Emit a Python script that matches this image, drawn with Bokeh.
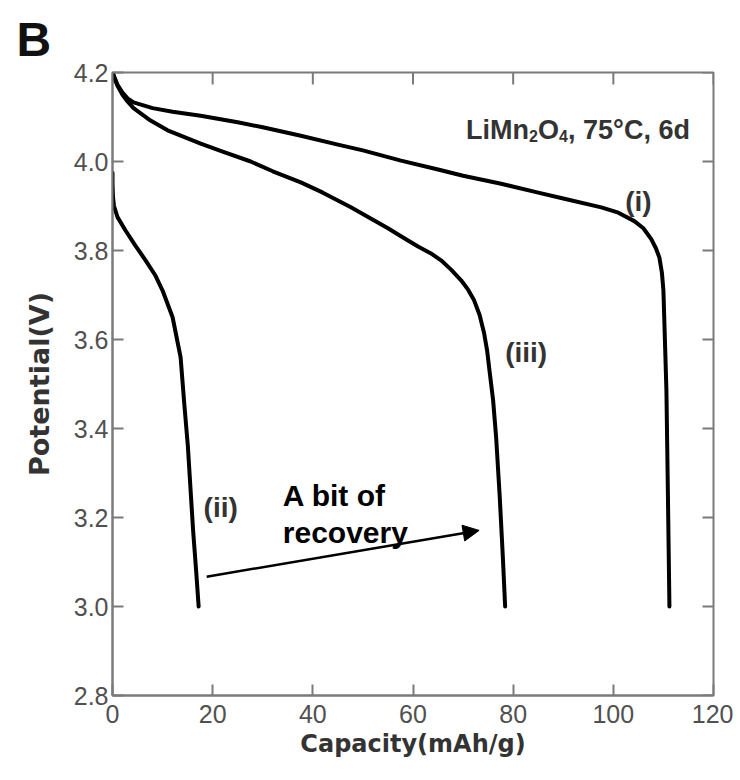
import math
from bokeh.plotting import figure
from bokeh.models import Range1d, Label, Arrow, NormalHead, FixedTicker, PrintfTickFormatter
from bokeh.embed import file_html
from bokeh.resources import INLINE

# Curve (i)
cap_i = [0, 1, 2, 3, 4.2, 8, 12, 17.6, 25, 30, 37.6, 45, 50, 57.6, 65, 70, 77.6, 85, 90, 97.6,
         101, 104.2, 106, 107.6, 108.5, 109.2, 109.7, 110, 110.3, 110.6, 110.9, 111.2]
pot_i = [4.2, 4.172, 4.155, 4.142, 4.133, 4.12, 4.112, 4.103, 4.088, 4.077, 4.058, 4.038, 4.025, 4.002,
         3.982, 3.968, 3.95, 3.93, 3.917, 3.897, 3.885, 3.866, 3.85, 3.825, 3.805, 3.784, 3.75, 3.71,
         3.598, 3.485, 3.25, 3.0]
# Curve (ii)
cap_ii = [0, 0, 0.1, 0.3, 1, 2.6, 4.5, 6.6, 8.5, 10, 12, 13.6, 14.3, 15.05, 15.6, 16.1, 16.7, 17.2]
pot_ii = [3.975, 3.95, 3.92, 3.9, 3.875, 3.845, 3.812, 3.778, 3.745, 3.71, 3.65, 3.56, 3.46, 3.36,
          3.26, 3.17, 3.08, 3.0]
# Curve (iii)
cap_iii = [0, 1, 2, 3, 4.2, 7.6, 11, 17.6, 22, 27.6, 32, 37.6, 42, 47.6, 52, 55, 57.6, 61, 63.5, 65.6,
           67.6, 69.6, 71, 72.2, 73.3, 74.2, 74.8, 75.2, 75.6, 76, 76.6, 77.3, 77.9, 78.4]
pot_iii = [4.2, 4.17, 4.15, 4.135, 4.12, 4.092, 4.07, 4.04, 4.022, 4.0, 3.978, 3.953, 3.93, 3.897,
           3.869, 3.85, 3.832, 3.809, 3.794, 3.778, 3.757, 3.733, 3.712, 3.688, 3.655, 3.614, 3.575,
           3.537, 3.5, 3.463, 3.38, 3.25, 3.12, 3.0]

x_ticks = [0, 20, 40, 60, 80, 100, 120]
y_ticks = [2.8, 3.0, 3.2, 3.4, 3.6, 3.8, 4.0, 4.2]
x_lo, x_hi = 0, 120
y_lo, y_hi = 2.8, 4.2

AX = "#7a7a7a"
TICKC = "#505050"
TF = "Liberation Sans"

p = figure(width=733, height=773, output_backend="svg", toolbar_location=None,
           x_range=Range1d(x_lo, x_hi), y_range=Range1d(y_lo, y_hi),
           min_border_left=112, min_border_right=20, min_border_top=72, min_border_bottom=78)
p.grid.visible = False
p.outline_line_color = AX
p.outline_line_width = 2
p.background_fill_color = "white"
p.border_fill_color = "white"

# Panel letter as title
p.title.text = "B"
p.title.align = "left"
p.title.offset = -96
p.title.text_font = TF
p.title.text_font_style = "bold"
p.title.text_font_size = "48px"
p.title.text_color = "#111111"
p.title.standoff = 14

for ax in (p.xaxis[0], p.yaxis[0]):
    ax.axis_line_color = AX
    ax.axis_line_width = 2
    ax.major_tick_line_color = AX
    ax.major_tick_line_width = 2
    ax.major_tick_in = 11
    ax.major_tick_out = 0
    ax.minor_tick_line_color = None
    ax.major_label_text_font = TF
    ax.major_label_text_font_size = "25px"
    ax.major_label_text_color = TICKC
    ax.axis_label_text_font = "DejaVu Sans"
    ax.axis_label_text_font_style = "bold"
    ax.axis_label_text_color = "#333333"

p.xaxis[0].ticker = FixedTicker(ticks=x_ticks)
p.yaxis[0].ticker = FixedTicker(ticks=y_ticks)
p.yaxis[0].formatter = PrintfTickFormatter(format="%.1f")
p.xaxis[0].major_label_standoff = 9
p.yaxis[0].major_label_standoff = 4
p.xaxis[0].axis_label = "Capacity(mAh/g)"
p.yaxis[0].axis_label = "Potential(V)"
p.xaxis[0].axis_label_text_font_size = "24px"
p.yaxis[0].axis_label_text_font_size = "27px"
p.xaxis[0].axis_label_standoff = 4
p.yaxis[0].axis_label_standoff = 16

# inward ticks on top and right edges (dash markers clipped by the frame)
p.scatter(x=x_ticks, y=[y_hi] * len(x_ticks), marker="dash", angle=math.pi / 2, size=24,
          line_color=AX, line_width=2)
p.scatter(x=[x_hi] * len(y_ticks), y=y_ticks, marker="dash", size=22,
          line_color=AX, line_width=2)

for xs, ys in ((cap_i, pot_i), (cap_ii, pot_ii), (cap_iii, pot_iii)):
    p.line(xs, ys, line_color="black", line_width=4, line_join="round", line_cap="round")

lab_style = dict(text_font=TF, text_font_style="bold", text_color="#333333",
                 text_font_size="28px", text_align="center", text_baseline="middle")
p.add_layout(Label(x=105, y=3.910, text="(i)", **lab_style))
p.add_layout(Label(x=21.6, y=3.2225, text="(ii)", **lab_style))
p.add_layout(Label(x=82.6, y=3.571, text="(iii)", **lab_style))

# Title pieces
tx, ty = 70.6, 4.0697
big = dict(text_font=TF, text_font_style="bold", text_color="#333333",
           text_font_size="27px", text_baseline="alphabetic", text_align="left")
small = dict(big, text_font_size="16px")
p.add_layout(Label(x=tx, y=ty, text="LiMn", **big))
p.add_layout(Label(x=tx, y=ty, x_offset=63, y_offset=-6, text="2", **small))
p.add_layout(Label(x=tx, y=ty, x_offset=72, text="O", **big))
p.add_layout(Label(x=tx, y=ty, x_offset=93, y_offset=-6, text="4", **small))
p.add_layout(Label(x=tx, y=ty, x_offset=102, text=", 75°C, 6d", **big))

# Annotation
ann = dict(text_font=TF, text_font_style="bold", text_color="black",
           text_font_size="30px", text_baseline="alphabetic", text_align="left")
p.add_layout(Label(x=34, y=3.2494, text="A bit of", **ann))
p.add_layout(Label(x=34, y=3.1663, text="recovery", **ann))
p.add_layout(Arrow(x_start=18.8, y_start=3.067, x_end=73.2, y_end=3.171,
                   line_color="black", line_width=2.5,
                   end=NormalHead(size=16, fill_color="black", line_color="black")))

open("out.html", "w").write(file_html(p, INLINE))
